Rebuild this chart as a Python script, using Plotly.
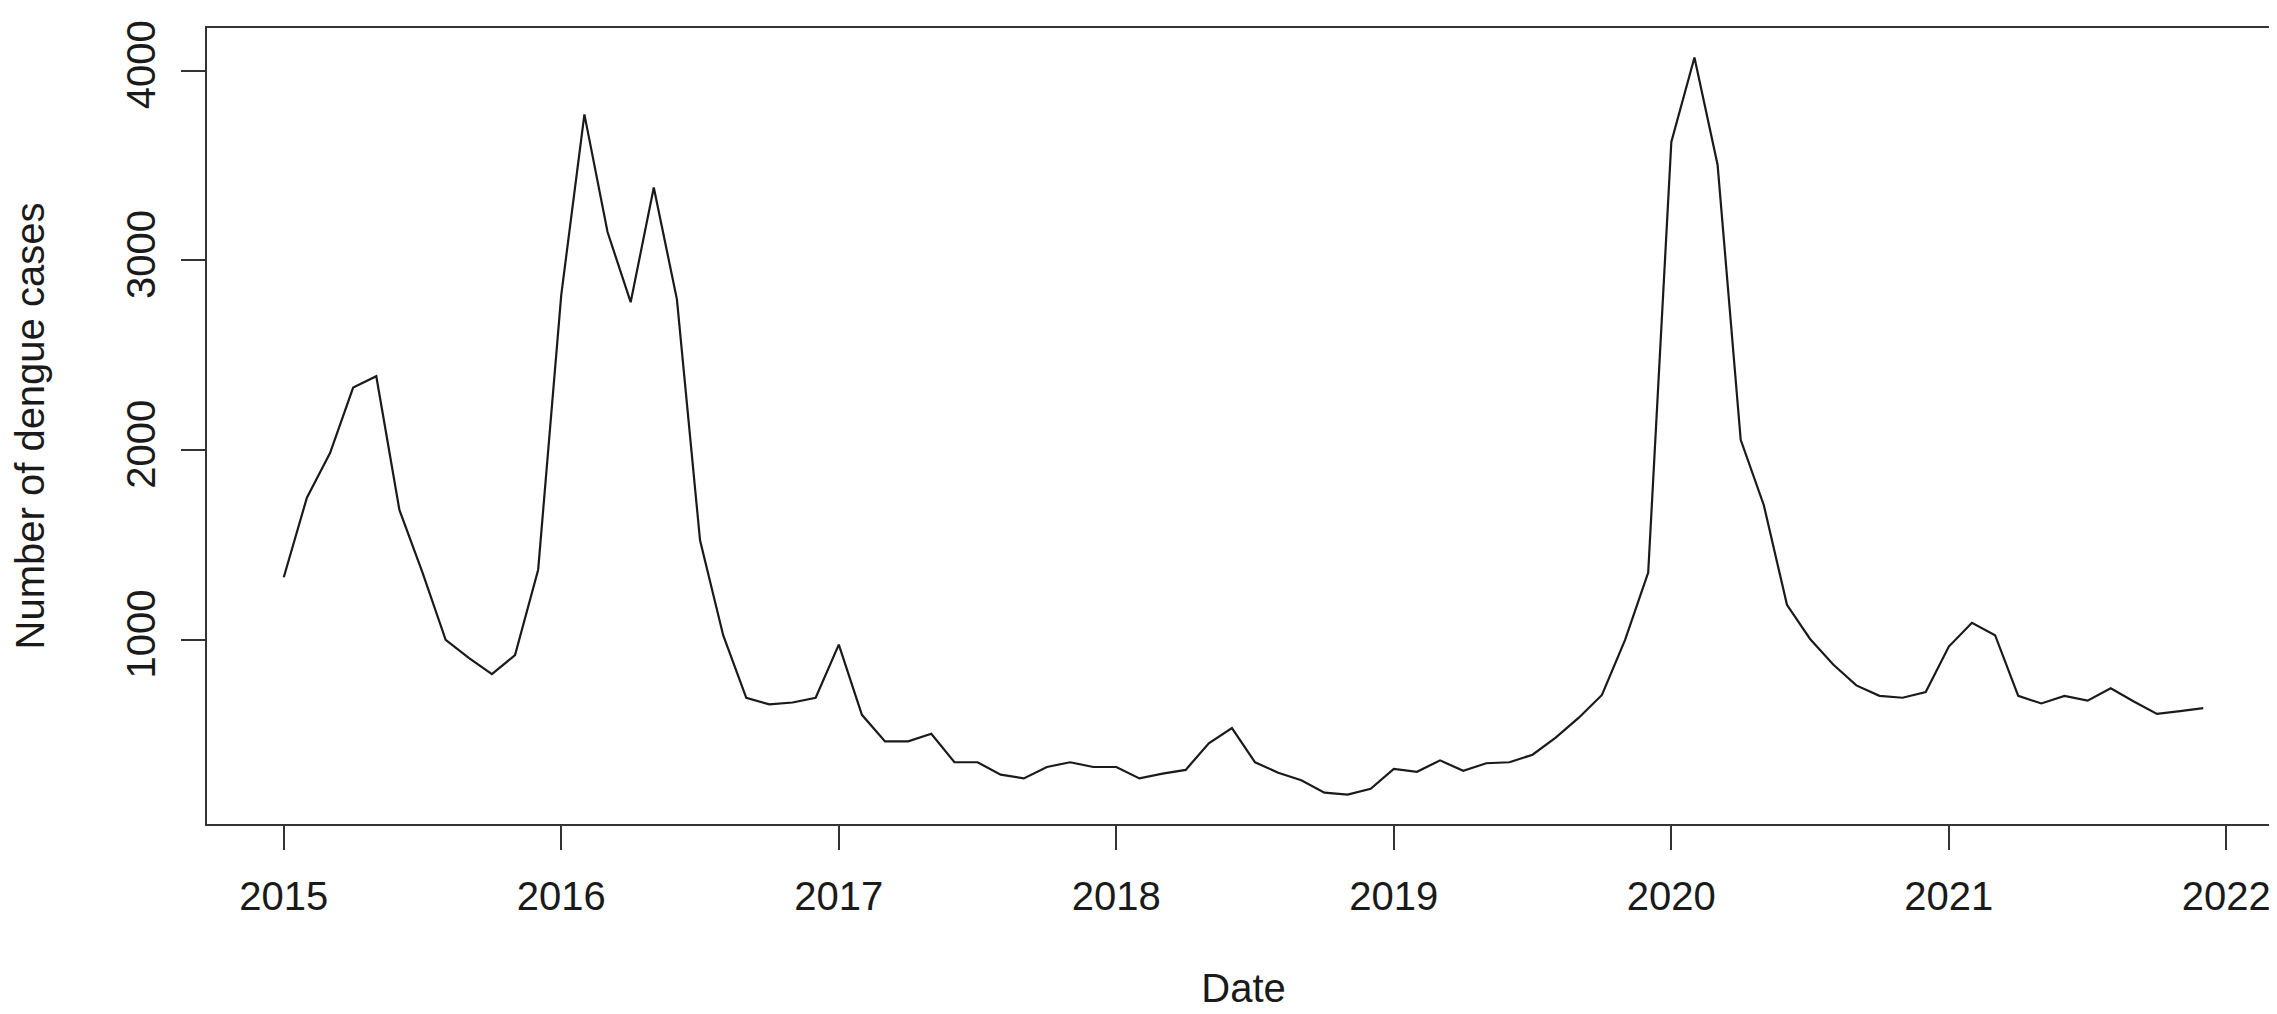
import numpy as np
import plotly.graph_objects as go

# monthly dengue cases, Jan 2015 - Dec 2021
start_year = 2015
cases = [
    1330, 1750, 1985, 2330, 2390, 1685, 1355, 1000, 905, 820, 920, 1370,   # 2015
    2820, 3770, 3150, 2780, 3385, 2795, 1525, 1025, 695, 660, 670, 695,    # 2016
    975, 605, 465, 465, 505, 355, 355, 290, 270, 330, 355, 330,            # 2017
    330, 270, 295, 315, 455, 535, 355, 300, 260, 195, 185, 215,            # 2018
    320, 305, 365, 310, 350, 355, 395, 485, 590, 710, 1000, 1355,          # 2019
    3625, 4070, 3505, 2055, 1710, 1185, 1005, 870, 760, 705, 695, 725,     # 2020
    965, 1090, 1025, 705, 665, 705, 680, 745, 675, 610, 625, 640,          # 2021
]
year_ticks = [2015, 2016, 2017, 2018, 2019, 2020, 2021, 2022]
case_ticks = [1000, 2000, 3000, 4000]

# time index like an R ts object with frequency 12
t = start_year + np.arange(len(cases)) / 12


def r_range(v):
    # base R pads the data range by 4% on each side
    lo, hi = float(np.min(v)), float(np.max(v))
    pad = 0.04 * (hi - lo)
    return [lo - pad, hi + pad]


fig = go.Figure()
fig.add_scatter(x=t, y=cases, mode="lines",
                line=dict(color="#1a1a1a", width=2.2), hoverinfo="x+y")

ink = "#333333"
txt = dict(family="Liberation Sans, Arial, sans-serif", size=40, color="#1a1a1a")
fig.update_layout(
    width=2277, height=1014,
    margin=dict(l=199, r=3, t=20, b=198),
    plot_bgcolor="white", paper_bgcolor="white",
    showlegend=False,
    font=txt,
)
fig.update_xaxes(
    range=r_range(t), tickvals=year_ticks, tickformat="d",
    ticks="outside", ticklen=24, tickwidth=1.5, tickcolor=ink,
    showline=True, mirror=True, linecolor=ink, linewidth=2,
    showgrid=False, zeroline=False, ticklabelstandoff=12,
    title=dict(text="Date", standoff=57, font=txt),
)
fig.update_yaxes(
    range=r_range(cases), tickvals=case_ticks, tickangle=-90,
    ticks="outside", ticklen=24, tickwidth=1.5, tickcolor=ink,
    showline=True, mirror=True, linecolor=ink, linewidth=2,
    showgrid=False, zeroline=False, ticklabelstandoff=10,
    title=dict(text="Number of dengue cases", standoff=63, font=txt),
)

fig.write_html("out.html")
